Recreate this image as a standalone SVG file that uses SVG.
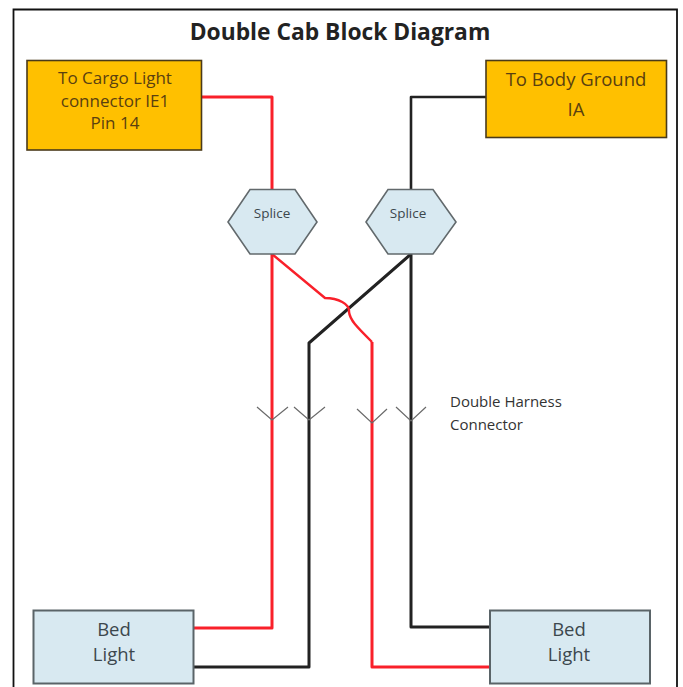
<svg xmlns="http://www.w3.org/2000/svg" width="683" height="687" viewBox="0 0 683 687">
<style>
text{font-family:"Open Sans","Noto Sans","Liberation Sans",sans-serif;text-anchor:middle}
.orange{fill:#ffc000;stroke:#4a3a1a;stroke-width:1.6}
.blue{fill:#d8e9f1;stroke:#5a6468;stroke-width:2}
.hex{fill:#d8e9f1;stroke:#62696c;stroke-width:1.6}
.w{fill:none;stroke-linejoin:round}
.red{stroke:#f9202a;stroke-width:3}
.blk{stroke:#222;stroke-width:3}
.chev{fill:none;stroke:#6a6a6a;stroke-width:1.2}
.lab{font-size:17px;fill:#5a4010}
.lab2{font-size:18.5px;fill:#5a4010}
.bed{font-size:18.500px;fill:#3c474d}
.sp{font-size:13.500px;fill:#3c474d}
.note{font-size:15px;fill:#333;text-anchor:start}
</style>
<rect width="683" height="687" fill="#fff"/>
<path d="M13.5 687V9.5H677V687" fill="none" stroke="#111" stroke-width="1.8"/>
<text x="340" y="40" font-size="22.800" font-weight="700" fill="#222">Double Cab Block Diagram</text>
<g id="connectors">
<path class="w red" d="M201 97H272V189"/>
<path class="w red" d="M272 254V628H193"/>
<path class="w blk" style="stroke-width:2.6" d="M486 97H411V189"/>
<path class="w blk" d="M411 254V627H489"/>
<path class="w blk" d="M411 254L309 343V667H193"/>
<path class="w red" style="stroke-width:2.400" d="M272 254L325 298C338 298 350 304 349 312C350 320 356 326 372 342"/>
<path class="w red" d="M372 342V667H490"/>
<path class="chev" d="M257 407L272 420L288 407"/>
<path class="chev" d="M294 407L309 420L325 407"/>
<path class="chev" d="M357 409L372 423L387 409"/>
<path class="chev" d="M396 407L411 421L426 407"/>
</g>
<g id="cargo"><rect class="orange" x="27" y="60.500" width="174.500" height="89.500"/>
<text class="lab" x="115" y="84">To Cargo Light</text><text class="lab" x="115" y="107">connector IE1</text><text class="lab" x="115" y="129">Pin 14</text></g>
<g id="ground"><rect class="orange" x="486" y="60.500" width="180.500" height="77"/>
<text class="lab2" x="576" y="86">To Body Ground</text><text class="lab2" x="576" y="116">IA</text></g>
<g id="splice1"><polygon class="hex" points="228,222 250,189.500 295,189.500 317,222 295,254 250,254"/><text class="sp" x="272" y="218">Splice</text></g>
<g id="splice2"><polygon class="hex" points="366,222 388,189.500 433,189.500 456,222 433,254 388,254"/><text class="sp" x="408" y="218">Splice</text></g>
<g id="note"><text class="note" x="450" y="407">Double Harness</text><text class="note" x="450" y="430">Connector</text></g>
<g id="bed1"><rect class="blue" x="33.500" y="610.500" width="160" height="73"/><text class="bed" x="114" y="636">Bed</text><text class="bed" x="114" y="661">Light</text></g>
<g id="bed2"><rect class="blue" x="490" y="610.500" width="160" height="73"/><text class="bed" x="569" y="636">Bed</text><text class="bed" x="569" y="661">Light</text></g>
</svg>
